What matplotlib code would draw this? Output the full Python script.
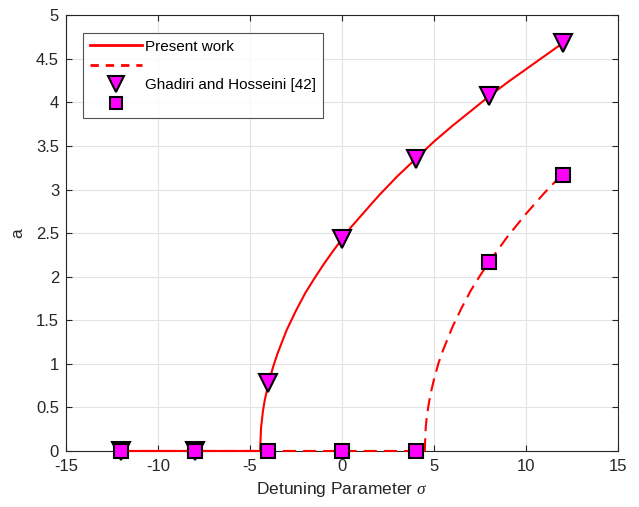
import numpy as np
import matplotlib.pyplot as plt
from matplotlib.lines import Line2D

plt.rcParams['font.family'] = ['Liberation Sans', 'DejaVu Sans']
plt.rcParams['mathtext.fontset'] = 'custom'
plt.rcParams['mathtext.it'] = 'Liberation Serif:italic'
plt.rcParams['axes.unicode_minus'] = False

# frequency response curves (present work)
sigma_upper = [-12, -8, -4.45, -4.4, -4.3, -4.2, -4.0, -3.75, -3.5, -3, -2.5,
               -2, -1.5, -1, -0.5, 0, 0.5, 1, 1.5, 2, 2.5, 3, 3.5, 4, 5, 6,
               7, 8, 9, 10, 11, 12]
a_upper = [0, 0, 0, 0.26, 0.45, 0.58, 0.77, 0.96, 1.12, 1.39, 1.61,
           1.81, 1.98, 2.14, 2.29, 2.43, 2.57, 2.69, 2.81, 2.93, 3.04, 3.15,
           3.25, 3.35, 3.55, 3.73, 3.90, 4.07, 4.23, 4.38, 4.53, 4.68]

sigma_lower = [-12, -4, 0, 4.5, 4.55, 4.6, 4.7, 4.8, 4.9, 5, 5.25, 5.5, 6,
               6.5, 7, 7.5, 8, 9, 10, 11, 12]
a_lower = [0, 0, 0, 0, 0.26, 0.37, 0.52, 0.64, 0.73, 0.82, 1.01, 1.16, 1.42,
           1.64, 1.84, 2.01, 2.17, 2.46, 2.72, 2.96, 3.18]

# Ghadiri and Hosseini [42]
sigma_ref = [-12, -8, -4, 0, 4, 8, 12]
a_ref_upper = [0, 0, 0.78, 2.43, 3.35, 4.07, 4.68]
a_ref_lower = [0, 0, 0, 0, 0, 2.17, 3.17]

fig = plt.figure(figsize=(6.39, 5.07), dpi=100)
ax = fig.add_axes([0.1033, 0.1105, 0.8637, 0.8595])

ax.plot(sigma_upper, a_upper, color='#ff0000', lw=1.5, zorder=3, clip_on=False)
ax.plot(sigma_lower, a_lower, color='#ff0000', lw=1.5, dashes=(6.3, 3.4),
        zorder=3, clip_on=False)
ax.plot(sigma_ref, a_ref_upper, 'v', ms=13, mfc='#ff00ff', mec='black',
        mew=1.5, zorder=4, clip_on=False)
ax.plot(sigma_ref, a_ref_lower, 's', ms=9.5, mfc='#ff00ff', mec='black',
        mew=1.5, zorder=5, clip_on=False)

ax.set_xlim(-15, 15)
ax.set_ylim(0, 5)
ax.set_xticks(np.arange(-15, 16, 5))
ax.set_yticks(np.arange(0, 5.01, 0.5))
ax.set_yticklabels(['0', '0.5', '1', '1.5', '2', '2.5', '3', '3.5', '4', '4.5', '5'])
ax.grid(True, color='#e3e3e3', lw=0.8)
ax.set_axisbelow(True)
ax.tick_params(direction='in', top=True, right=True, labelsize=12,
               length=4, width=0.8, colors='#262626')
ax.tick_params(axis='x', pad=6)
ax.tick_params(axis='y', pad=5)
for sp in ax.spines.values():
    sp.set_color('#262626')
    sp.set_linewidth(0.8)

ax.set_xlabel(r'Detuning Parameter $\sigma$', fontsize=12.5, color='#262626',
              labelpad=4)
ax.set_ylabel('a', fontsize=12.5, color='#262626', labelpad=8)

handles = [
    Line2D([], [], color='#ff0000', lw=2),
    Line2D([], [], color='#ff0000', lw=2, dashes=(3, 2.5)),
    Line2D([], [], ls='none', marker='v', ms=12, mfc='#ff00ff', mec='black', mew=1.5),
    Line2D([], [], ls='none', marker='s', ms=9, mfc='#ff00ff', mec='black', mew=1.5),
]
labels = ['Present work', ' ', 'Ghadiri and Hosseini [42]', ' ']
leg = ax.legend(handles, labels, loc='upper left', bbox_to_anchor=(0.031, 0.96),
                fontsize=11, frameon=True, fancybox=False, edgecolor='#262626',
                handlelength=3.4, handletextpad=0.2, labelspacing=0.35,
                borderpad=0.45, borderaxespad=0)
leg.get_frame().set_linewidth(0.8)

fig.savefig('out.png', dpi=100)
